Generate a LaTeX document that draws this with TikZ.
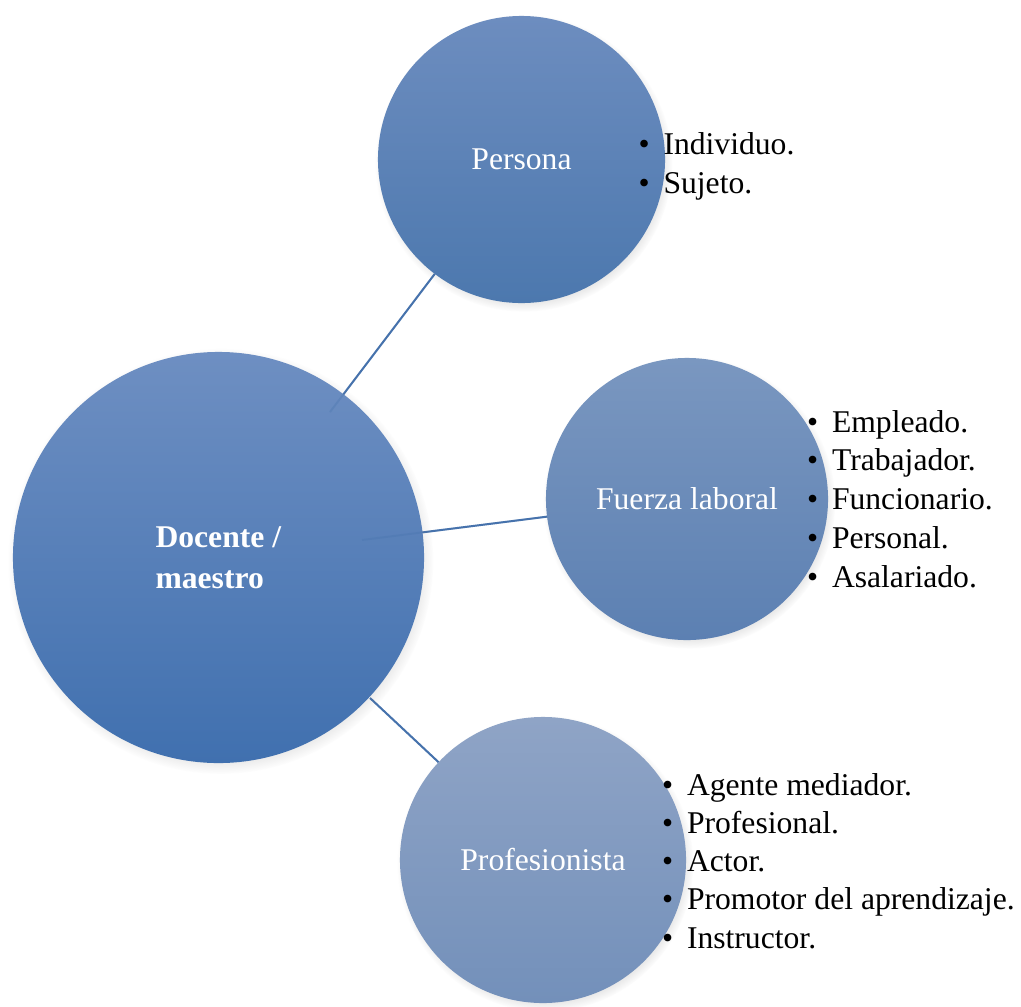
\documentclass[tikz,border=0pt]{standalone}
\usepackage{fontspec}
\setmainfont{Liberation Serif}
\usetikzlibrary{shadows,fadings}
\pgfdeclarelayer{bg}
\pgfsetlayers{bg,main}
\definecolor{bigtop}{RGB}{110,143,194}
\definecolor{bigbot}{RGB}{64,112,175}
\definecolor{pertop}{RGB}{109,141,191}
\definecolor{perbot}{RGB}{76,120,174}
\definecolor{fuetop}{RGB}{122,151,192}
\definecolor{fuebot}{RGB}{92,128,178}
\definecolor{protop}{RGB}{143,164,198}
\definecolor{probot}{RGB}{115,144,186}
\definecolor{connc}{RGB}{70,114,172}
\tikzset{
  bub/.style={circle, inner sep=0pt, outer sep=0pt, text=white, align=center,
    font=\fontsize{22.5}{29}\selectfont,
    circular drop shadow={shadow scale=1.035, shadow xshift=1.5pt, shadow yshift=-2.5pt, opacity=0.4}},
  conn/.style={draw=connc, line width=1.4pt},
  item/.style={anchor=base west, inner sep=0pt, outer sep=0pt, text=black,
    font=\fontsize{22.5}{27}\selectfont},
}
\newcommand{\bul}[1]{\makebox[0.625cm][l]{\textbullet}#1}
\begin{document}
\begin{tikzpicture}[x=0.025cm, y=-0.025cm]
\useasboundingbox (0,0) rectangle (1021,1007);

% circles
\node[bub, minimum size=10.275cm, top color=bigtop, bottom color=bigbot, align=left]
  (doc) at (218.5,557.5) {\textbf{Docente /}\\\textbf{maestro}};
\node[bub, minimum size=7.175cm, top color=pertop, bottom color=perbot]
  (per) at (521.5,159.5) {Persona};
\node[bub, minimum size=7.05cm, top color=fuetop, bottom color=fuebot]
  (fue) at (687,499) {Fuerza laboral};
\node[bub, minimum size=7.15cm, top color=protop, bottom color=probot]
  (pro) at (543,860) {Profesionista};

% connector start points
\coordinate (s1) at (330,412);
\coordinate (s2) at (362,540);
\coordinate (s3) at (370,698);

\begin{pgfonlayer}{bg}
\draw[conn] (s1) -- (per);
\draw[conn] (s2) -- (fue);
\draw[conn] (s3) -- (pro);
\end{pgfonlayer}
\draw[conn, draw opacity=0.3] (s1) -- (per);
\draw[conn, draw opacity=0.3] (s2) -- (fue);
\draw[conn, draw opacity=0.3] (s3) -- (pro);

% bullet lists
\node[item] (p1) at (638.5,154) {\bul{Individuo.}};
\node[item] (p2) at (638.5,193) {\bul{Sujeto.}};

\node[item] (f1) at (807,432) {\bul{Empleado.}};
\node[item] (f2) at (807,470.75) {\bul{Trabajador.}};
\node[item] (f3) at (807,509.5) {\bul{Funcionario.}};
\node[item] (f4) at (807,548.25) {\bul{Personal.}};
\node[item] (f5) at (807,587) {\bul{Asalariado.}};

\node[item] (r1) at (662,795) {\bul{Agente mediador.}};
\node[item] (r2) at (662,833.3) {\bul{Profesional.}};
\node[item] (r3) at (662,871.6) {\bul{Actor.}};
\node[item] (r4) at (662,909.9) {\bul{Promotor del aprendizaje.}};
\node[item] (r5) at (662,948.2) {\bul{Instructor.}};
\end{tikzpicture}
\end{document}
